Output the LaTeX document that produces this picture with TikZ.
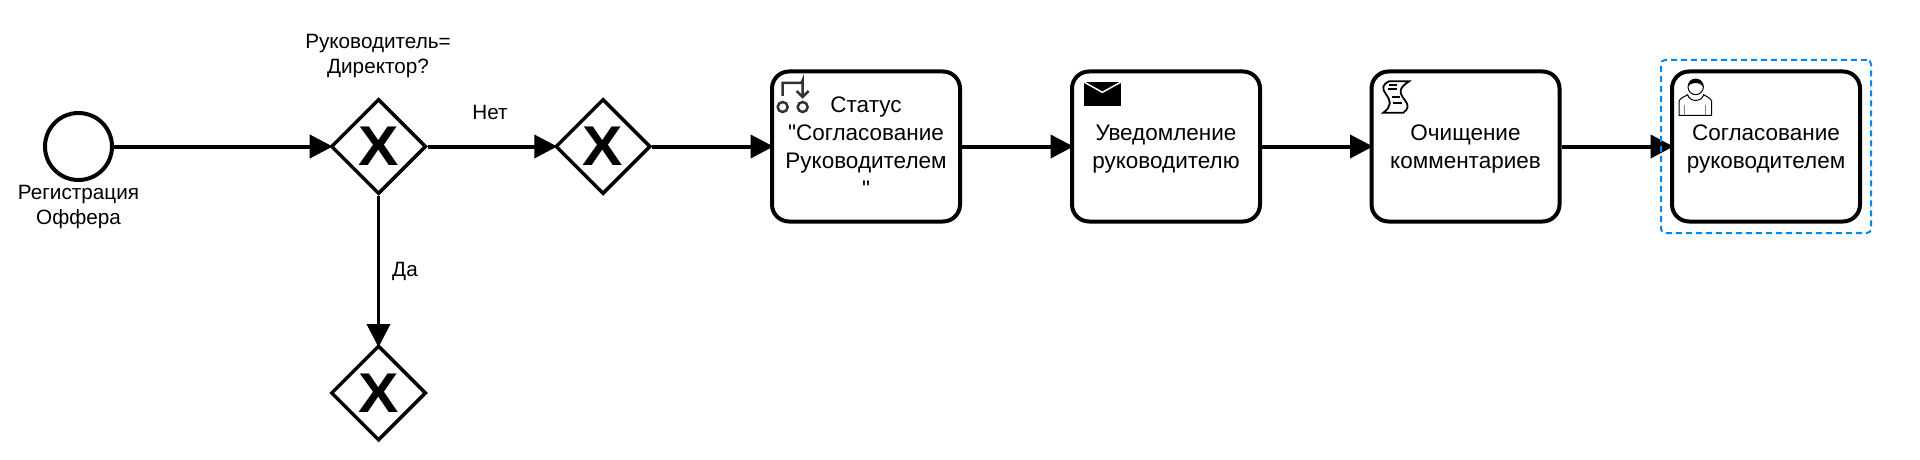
\documentclass[tikz,border=0pt]{standalone}
\usepackage{fontspec}
\newfontfamily\diagfont{Liberation Sans}
\usetikzlibrary{arrows.meta,shapes.geometric}

\definecolor{selblue}{RGB}{0,136,238}
\definecolor{icongray}{RGB}{51,51,51}

\tikzset{
  taskbox/.style={draw,line width=4pt,rounded corners=17pt,minimum width=188pt,minimum height=150pt,
    inner sep=0pt,align=center,text depth=0pt,font=\diagfont\fontsize{22.5}{28}\selectfont},
  gate/.style={draw,diamond,aspect=1,line width=3.5pt,minimum size=95pt,inner sep=0pt,
    font=\diagfont\fontsize{56}{56}\selectfont\bfseries},
  startev/.style={draw,circle,line width=4pt,minimum size=67pt,inner sep=0pt},
  lab/.style={inner sep=0pt,align=center,font=\diagfont\fontsize{20.7}{25}\selectfont},
  flow/.style={line width=4pt,shorten >=-3.5pt,-{Triangle[length=23pt,width=23pt]}},
}

\begin{document}
\begin{tikzpicture}[x=1pt,y=-1pt]
    \useasboundingbox (0,0) rectangle (1920,460);

    \node[startev] (start) at (78.5,146.5) {};
    \node[lab] (start_lab) at (78.5,207) {Регистрация\\Оффера};

    \foreach \name/\x/\y in {top/378.5/146.5,next/603/146.5,low/378.5/393} {
      \node[gate] (gate_\name) at (\x,\y) {\scalebox{1.08}[1]{X}};
    }
    \node[lab] (gate_lab) at (378,56) {Руководитель=\\Директор?};
    \node[lab] (no_lab) at (490,112) {Нет};
    \node[lab] (yes_lab) at (405,271) {Да};

    \node[taskbox] (status) at (866,146.5) {Статус\\"Согласование\\Руководителем\\"};
    \node[taskbox] (notify) at (1166,146.5) {Уведомление\\руководителю};
    \node[taskbox] (clear) at (1465.5,146.5) {Очищение\\комментариев};
    \node[taskbox] (approve) at (1766,146.5) {Согласование\\руководителем};

    \begin{scope}[flow]
        \path
        (start) edge (gate_top)
        (gate_top) edge (gate_next)
        (gate_next) edge (status)
        (status) edge (notify)
        (notify) edge (clear)
        (clear) edge (approve);
        \path[line width=3pt]
        (gate_top) edge (gate_low);
    \end{scope}

    % manual task
    \begin{scope}[shift={(770,72)},x=1/3pt,y=-1/3pt,draw=icongray,line width=2.5pt]
      \draw (38,72) -- (38,33) -- (90,33) arc (90:0:8) -- (98,75);
      \draw (80,57) -- (98,75) -- (116,57);
      \draw (38,105) circle (15) (98,105) circle (15);
    \end{scope}

    % send task
    \begin{scope}[shift={(1075,72)},x=1/3pt,y=-1/3pt]
      \fill (27,30) rectangle (138,103);
      \draw[white,line width=1.5pt] (27,30) -- (82,61) -- (138,30);
    \end{scope}

    % script task
    \begin{scope}[shift={(1375,72)},x=1/3pt,y=-1/3pt,line width=1.8pt]
      \draw (42,28) -- (102,28) .. controls (72,48) and (70,60) .. (90,85)
        .. controls (102,100) and (100,112) .. (85,122) -- (25,122)
        .. controls (48,105) and (50,90) .. (32,65) .. controls (20,48) and (22,38) .. (42,28) -- cycle;
      \foreach \ya/\xa/\xb in {40/43/66,52/40/65,75/50/75,92/55/80} {
        \draw (\xa,\ya) -- (\xb,\ya);
      }
    \end{scope}

    % user task
    \begin{scope}[shift={(1675,72)},x=1/3pt,y=-1/3pt,line width=1pt]
      \draw (12,130) -- (12,88) .. controls (14,78) and (30,74) .. (38,68)
        .. controls (42,90) and (80,92) .. (86,68) .. controls (94,74) and (108,78) .. (110,88) -- (110,130) -- cycle;
      \draw[fill=white] (62,45) circle (23);
      \fill (39,45) .. controls (39,28) and (50,20) .. (62,20) .. controls (76,20) and (85,30) .. (85,45)
        .. controls (78,36) and (70,32) .. (58,33) .. controls (48,34) and (42,38) .. (39,45) -- cycle;
      \draw[gray] (28,100) -- (28,130) (92,100) -- (92,130);
    \end{scope}

    \node[draw=selblue,line width=2pt,dashed,dash pattern=on 6pt off 4pt,rounded corners=4pt,
      minimum width=210pt,minimum height=173pt,inner sep=0pt] (selected) at (1766,146.5) {};
\end{tikzpicture}
\end{document}
